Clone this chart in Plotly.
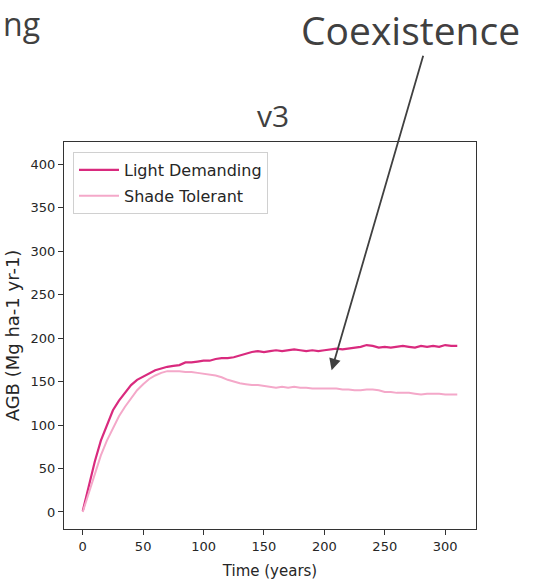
import plotly.graph_objects as go

# ---- data ----
years = list(range(0, 311, 5))
light_demanding = [1, 30, 58, 82, 100, 117, 128, 137, 146, 152,
                   156, 160, 163, 165, 167, 168, 169, 172, 172, 173,
                   174, 174, 176, 177, 177, 178, 180, 182, 184, 185,
                   184, 185, 186, 185, 186, 187, 186, 185, 186, 185,
                   186, 187, 188, 187, 188, 189, 190, 192, 191, 189,
                   190, 189, 190, 191, 190, 189, 191, 190, 191, 190,
                   192, 191, 191]
shade_tolerant = [0, 22, 45, 65, 82, 97, 110, 121, 131, 140,
                  147, 153, 157, 160, 162, 162, 162, 161, 161, 160,
                  159, 158, 157, 155, 152, 150, 148, 147, 146, 146,
                  145, 144, 143, 144, 143, 144, 143, 143, 142, 142,
                  142, 142, 142, 141, 141, 140, 140, 141, 141, 140,
                  138, 138, 137, 137, 137, 136, 135, 136, 136, 136,
                  135, 135, 135]
x_ticks = [0, 50, 100, 150, 200, 250, 300]
y_ticks = [0, 50, 100, 150, 200, 250, 300, 350, 400]

W, H = 546, 587
L, R, T, B = 64, 70, 142, 58
PW, PH = W - L - R, H - T - B

def px(x):
    return (x - L) / PW

def py(y):
    return (H - B - y) / PH

fig = go.Figure()
fig.add_trace(go.Scatter(x=years, y=light_demanding, mode="lines",
                         name="Light Demanding", legendgroup="a",
                         line=dict(color="#d92a7e", width=2.2)))
fig.add_trace(go.Scatter(x=years, y=shade_tolerant, mode="lines",
                         name="Shade Tolerant", legendgroup="b",
                         line=dict(color="#f4a8c9", width=2)))

axis_common = dict(showline=True, linecolor="#333333", linewidth=1.3, mirror=True,
                   ticks="outside", ticklen=5, tickcolor="#333333", tickwidth=1.2,
                   showgrid=False, zeroline=False,
                   tickfont=dict(family="DejaVu Sans", size=13, color="#262626"))
fig.update_xaxes(range=[-15.5, 325.5], tickvals=x_ticks,
                 title=dict(text="Time (years)", standoff=12,
                            font=dict(family="DejaVu Sans", size=15, color="#262626")),
                 **axis_common)
fig.update_yaxes(range=[-19.6, 425.6], tickvals=y_ticks,
                 title=dict(text="AGB (Mg ha-1 yr-1)", standoff=6,
                            font=dict(family="DejaVu Sans", size=18, color="#262626")),
                 **axis_common)

annotations = [
    dict(text="v3", x=px(273), y=py(115), xref="paper", yref="paper",
         showarrow=False, xanchor="center", yanchor="middle",
         font=dict(family="Open Sans", size=30, color="#404040")),
    dict(text="Coexistence", x=px(522), y=py(29), xref="paper", yref="paper",
         showarrow=False, xanchor="right", yanchor="middle",
         font=dict(family="Open Sans", size=39, color="#404040")),
    dict(text="ng", x=px(1), y=py(0), xref="paper", yref="paper",
         showarrow=False, xanchor="left", yanchor="top",
         font=dict(family="Open Sans", size=32, color="#404040")),
    dict(text="", x=206, y=163, xref="x", yref="y", ax=92, ay=-316,
         showarrow=True, arrowhead=2, arrowsize=1.3, arrowwidth=1.8,
         arrowcolor="#404040", standoff=0),
]

fig.update_layout(
    width=W, height=H,
    margin=dict(l=L, r=R, t=T, b=B),
    paper_bgcolor="white", plot_bgcolor="white",
    showlegend=True,
    legend=dict(x=px(73), y=py(152), xanchor="left", yanchor="top",
                bgcolor="white", bordercolor="#d0d0d0", borderwidth=1,
                tracegroupgap=2, itemwidth=40,
                font=dict(family="DejaVu Sans", size=16, color="#262626")),
    annotations=annotations,
)

fig.write_html("out.html")
